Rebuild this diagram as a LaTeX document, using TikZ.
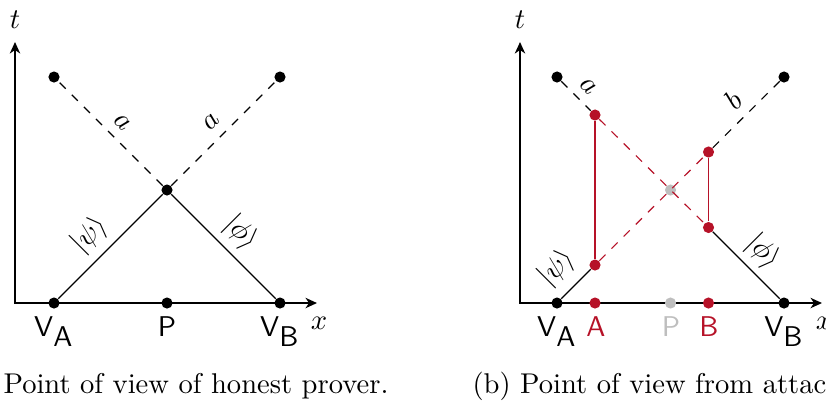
\documentclass[tikz,border=0pt]{standalone}
\usetikzlibrary{arrows.meta}
\definecolor{attred}{RGB}{182,18,40}
\definecolor{ghost}{RGB}{190,190,190}
\begin{document}
\begin{tikzpicture}[x=0.35pt,y=-0.35pt,
  axis/.style={thick,line join=miter,{Stealth[length=4pt,width=3.6pt,inset=1.2pt]}-{Stealth[length=4pt,width=3.6pt,inset=1.2pt]}},
  dot/.style={circle,fill=black,inner sep=0pt,minimum size=3.9pt},
  rdot/.style={dot,fill=attred},
  gdot/.style={dot,fill=ghost},
  conn/.style={line width=0.4pt},
  dconn/.style={line width=0.4pt,dashed},
  lab/.style={inner sep=0pt,anchor=base,font=\sffamily},
  txt/.style={inner sep=0pt},
  captext/.style={inner sep=0pt,anchor=base west}]
\useasboundingbox (0,0) rectangle (826,403);

% ---------- left panel ----------
\coordinate (T1) at (15,42);
\coordinate (O1) at (15,303);
\coordinate (X1) at (317,303);
\draw[axis] (T1) -- (O1) -- (X1);
\node[txt] (tl1) at (15,20) {$t$};
\node[txt] (xl1) at (319,323) {$x$};

\node[dot] (VA1) at (54,303) {};
\node[dot] (P1) at (167,303) {};
\node[dot] (VB1) at (280,303) {};
\node[dot] (M1) at (167,190) {};
\node[dot] (TL1) at (54,77) {};
\node[dot] (TR1) at (280,77) {};

\draw[conn] (VA1) -- (M1);
\draw[conn] (M1) -- (VB1);
\draw[dconn] (M1) -- (TL1);
\draw[dconn] (M1) -- (TR1);

\node[txt,rotate=-45] (la1) at (122,122) {$a$};
\node[txt,rotate=45] (ra1) at (211,122) {$a$};
\node[txt,rotate=45] (psi1) at (90,235) {$|\psi\rangle$};
\node[txt,rotate=-45] (phi1) at (241,233) {$|\phi\rangle$};

\node[lab] (lVA1) at (54,336.5) {V$_{\textsf{A}}$};
\node[lab] (lP1) at (167,336.5) {P};
\node[lab] (lVB1) at (280,336.5) {V$_{\textsf{B}}$};

% ---------- right panel ----------
\coordinate (T2) at (520,42);
\coordinate (O2) at (520,303);
\coordinate (X2) at (822,303);
\draw[axis] (T2) -- (O2) -- (X2);
\node[txt] (tl2) at (520,20) {$t$};
\node[txt] (xl2) at (824,323) {$x$};

\node[dot] (VA2) at (557,303) {};
\node[rdot] (A2) at (595,303) {};
\node[gdot] (P2) at (670.5,303) {};
\node[rdot] (B2) at (708.5,303) {};
\node[dot] (VB2) at (784,303) {};
\node[dot] (TL2) at (557,77) {};
\node[dot] (TR2) at (784,77) {};
\node[gdot] (M2) at (670.5,190) {};
\node[rdot] (Aup) at (595,115) {};
\node[rdot] (Alow) at (595,265) {};
\node[rdot] (Bup) at (708.5,152) {};
\node[rdot] (Blow) at (708.5,227.5) {};

\draw[dconn] (TL2) -- (Aup);
\draw[dconn,attred] (Aup) -- (Blow);
\draw[dconn,attred] (Alow) -- (Bup);
\draw[dconn] (Bup) -- (TR2);
\draw[conn] (VA2) -- (Alow);
\draw[conn] (Blow) -- (VB2);
\draw[conn,attred] (Aup) -- (Alow);
\draw[conn,attred] (Bup) -- (Blow);

\node[txt,rotate=-45] (la2) at (588,86) {$a$};
\node[txt,rotate=45] (rb2) at (733,100) {$b$};
\node[txt,rotate=45] (psi2) at (557,268) {$|\psi\rangle$};
\node[txt,rotate=-45] (phi2) at (763,252) {$|\phi\rangle$};

\node[lab] (lVA2) at (557,336.5) {V$_{\textsf{A}}$};
\node[lab,text=attred] (lA2) at (596,336.5) {A};
\node[lab,text=ghost] (lP2) at (671,336.5) {P};
\node[lab,text=attred] (lB2) at (709,336.5) {B};
\node[lab] (lVB2) at (784,336.5) {V$_{\textsf{B}}$};

% ---------- captions ----------
\node[captext] (capa) at (3,393.7) {Point of view of honest prover.};
\node[captext] (capb) at (472,393.7) {(b) Point of view from attac};
\end{tikzpicture}
\end{document}
